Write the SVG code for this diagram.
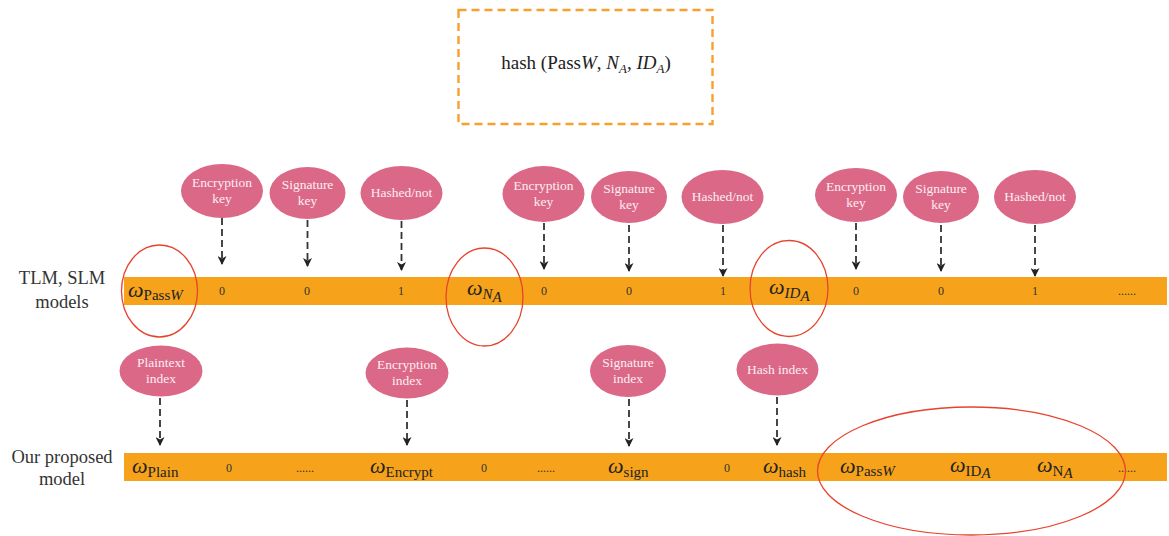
<svg xmlns="http://www.w3.org/2000/svg" width="1169" height="536" viewBox="0 0 1169 536">
  <defs>
    <marker id="arrow" viewBox="0 0 10 10" refX="9" refY="5" markerWidth="10" markerHeight="9" markerUnits="userSpaceOnUse" orient="auto">
      <path d="M0,0 L10,5 L0,10 L3,5 Z" fill="#222"/>
    </marker>
  </defs>
  <style>
    .bar { fill: #f6a31b; }
    .pink { fill: #dc6888; }
    .ring { fill: none; stroke: #e8432e; stroke-width: 1.3; }
    .ntext { font-family: "Liberation Serif", serif; font-size: 13.5px; fill: #fbeef2; text-anchor: middle; }
    .val { font-family: "Liberation Serif", serif; font-size: 12px; fill: #333; text-anchor: middle; }
    .lbl { font-family: "Liberation Serif", serif; font-size: 18.5px; fill: #333; text-anchor: middle; }
    .om { font-family: "Liberation Serif", serif; font-size: 22px; fill: #222; font-style: italic; }
    .sub { font-size: 15px; font-style: normal; }
    .it { font-style: italic; }
    .conn { stroke: #333; stroke-width: 1.8; stroke-dasharray: 7 4; fill: none; marker-end: url(#arrow); }
  </style>

  <!-- hash box -->
  <g id="hash-box">
    <rect x="458.5" y="10" width="254" height="114" fill="none" stroke="#f7a030" stroke-width="2.4" stroke-dasharray="8 5"/>
    <text x="586" y="69" font-family="Liberation Serif, serif" font-size="19" fill="#222" text-anchor="middle">hash (Pass<tspan font-style="italic">W</tspan>, <tspan font-style="italic">N</tspan><tspan font-style="italic" font-size="13" dy="4">A</tspan><tspan dy="-4">, </tspan><tspan font-style="italic">ID</tspan><tspan font-style="italic" font-size="13" dy="4">A</tspan><tspan dy="-4">)</tspan></text>
  </g>

  <!-- row labels -->
  <g id="label-tlm">
    <text class="lbl" x="62" y="284">TLM, SLM</text>
    <text class="lbl" x="62" y="308">models</text>
  </g>
  <g id="label-ours">
    <text class="lbl" x="62" y="463">Our proposed</text>
    <text class="lbl" x="62" y="485">model</text>
  </g>

  <!-- top bar -->
  <g id="bar-tlm">
    <rect class="bar" x="124" y="277" width="1043" height="28"/>
    <text class="om" x="128" y="297">ω<tspan class="sub" dy="3">Pass</tspan><tspan class="sub it">W</tspan></text>
    <text class="val" x="222" y="295">0</text>
    <text class="val" x="307" y="295">0</text>
    <text class="val" x="401" y="295">1</text>
    <text class="om" x="467" y="295">ω<tspan class="sub it" dy="4">N</tspan><tspan class="sub it" font-size="11" dy="3">A</tspan></text>
    <text class="val" x="544" y="295">0</text>
    <text class="val" x="629" y="295">0</text>
    <text class="val" x="723" y="295">1</text>
    <text class="om" x="769" y="294">ω<tspan class="sub it" dy="4">ID</tspan><tspan class="sub it" font-size="11" dy="3">A</tspan></text>
    <text class="val" x="856" y="295">0</text>
    <text class="val" x="941" y="295">0</text>
    <text class="val" x="1035" y="295">1</text>
    <text class="val" x="1127" y="295">......</text>
  </g>

  <!-- bottom bar -->
  <g id="bar-ours">
    <rect class="bar" x="124" y="453" width="1043" height="28"/>
    <text class="om" x="132" y="473">ω<tspan class="sub" dy="4">Plain</tspan></text>
    <text class="val" x="229" y="472">0</text>
    <text class="val" x="305" y="472">......</text>
    <text class="om" x="370" y="473">ω<tspan class="sub" dy="4">Encrypt</tspan></text>
    <text class="val" x="484" y="472">0</text>
    <text class="val" x="546" y="472">......</text>
    <text class="om" x="608" y="473">ω<tspan class="sub" dy="4">sign</tspan></text>
    <text class="val" x="727" y="472">0</text>
    <text class="om" x="763" y="473">ω<tspan class="sub" dy="4">hash</tspan></text>
    <text class="om" x="840" y="473">ω<tspan class="sub" dy="3">Pass</tspan><tspan class="sub it">W</tspan></text>
    <text class="om" x="950" y="472">ω<tspan class="sub" dy="4">ID</tspan><tspan class="sub it" dy="2">A</tspan></text>
    <text class="om" x="1037" y="472">ω<tspan class="sub" dy="4">N</tspan><tspan class="sub it" dy="2">A</tspan></text>
    <text class="val" x="1127" y="472">......</text>
  </g>

  <!-- top attribute nodes -->
  <g id="n-enc-key-1"><ellipse class="pink" cx="222" cy="191" rx="41" ry="27"/><text class="ntext" x="222" y="187">Encryption</text><text class="ntext" x="222" y="203">key</text></g>
  <g id="n-sig-key-1"><ellipse class="pink" cx="307.5" cy="193" rx="38" ry="26"/><text class="ntext" x="307.5" y="189">Signature</text><text class="ntext" x="307.5" y="205">key</text></g>
  <g id="n-hashed-1"><ellipse class="pink" cx="401.5" cy="193" rx="41" ry="27"/><text class="ntext" x="401.5" y="197">Hashed/not</text></g>
  <g id="n-enc-key-2"><ellipse class="pink" cx="543.5" cy="194" rx="41" ry="28"/><text class="ntext" x="543.5" y="190">Encryption</text><text class="ntext" x="543.5" y="206">key</text></g>
  <g id="n-sig-key-2"><ellipse class="pink" cx="629" cy="197" rx="38" ry="26"/><text class="ntext" x="629" y="193">Signature</text><text class="ntext" x="629" y="209">key</text></g>
  <g id="n-hashed-2"><ellipse class="pink" cx="722.5" cy="197" rx="41" ry="27"/><text class="ntext" x="722.5" y="201">Hashed/not</text></g>
  <g id="n-enc-key-3"><ellipse class="pink" cx="856" cy="195" rx="41" ry="27"/><text class="ntext" x="856" y="191">Encryption</text><text class="ntext" x="856" y="207">key</text></g>
  <g id="n-sig-key-3"><ellipse class="pink" cx="941" cy="197" rx="38" ry="26"/><text class="ntext" x="941" y="193">Signature</text><text class="ntext" x="941" y="209">key</text></g>
  <g id="n-hashed-3"><ellipse class="pink" cx="1035" cy="197" rx="41" ry="27"/><text class="ntext" x="1035" y="201">Hashed/not</text></g>

  <!-- bottom index nodes -->
  <g id="n-plain-idx"><ellipse class="pink" cx="161" cy="371" rx="41.5" ry="25.5"/><text class="ntext" x="161" y="367">Plaintext</text><text class="ntext" x="161" y="383">index</text></g>
  <g id="n-enc-idx"><ellipse class="pink" cx="407" cy="373" rx="41.5" ry="25.5"/><text class="ntext" x="407" y="369">Encryption</text><text class="ntext" x="407" y="385">index</text></g>
  <g id="n-sig-idx"><ellipse class="pink" cx="628" cy="371" rx="38" ry="26"/><text class="ntext" x="628" y="367">Signature</text><text class="ntext" x="628" y="383">index</text></g>
  <g id="n-hash-idx"><ellipse class="pink" cx="777.5" cy="369.5" rx="41" ry="26"/><text class="ntext" x="777.5" y="373.5">Hash index</text></g>

  <!-- highlight rings -->
  <g id="rings">
    <ellipse class="ring" cx="159.5" cy="291" rx="38" ry="46"/>
    <ellipse class="ring" cx="484.5" cy="297" rx="38.5" ry="49"/>
    <ellipse class="ring" cx="789" cy="288.5" rx="39" ry="48"/>
    <ellipse class="ring" cx="971.5" cy="471" rx="154" ry="64"/>
  </g>

  <!-- connectors -->
  <g id="connectors">
    <line class="conn" x1="222" y1="218" x2="222" y2="264"/>
    <line class="conn" x1="307.5" y1="220" x2="307.5" y2="266"/>
    <line class="conn" x1="401.5" y1="221" x2="401.5" y2="270"/>
    <line class="conn" x1="544" y1="223" x2="544" y2="269"/>
    <line class="conn" x1="629" y1="225" x2="629" y2="271"/>
    <line class="conn" x1="723" y1="225" x2="723" y2="276"/>
    <line class="conn" x1="856" y1="223" x2="856" y2="269"/>
    <line class="conn" x1="941" y1="225" x2="941" y2="271"/>
    <line class="conn" x1="1035" y1="225" x2="1035" y2="276"/>
    <line class="conn" x1="160" y1="398" x2="160" y2="445"/>
    <line class="conn" x1="407" y1="400" x2="407" y2="445"/>
    <line class="conn" x1="629" y1="399" x2="629" y2="446"/>
    <line class="conn" x1="777" y1="397" x2="777" y2="445"/>
  </g>
</svg>
